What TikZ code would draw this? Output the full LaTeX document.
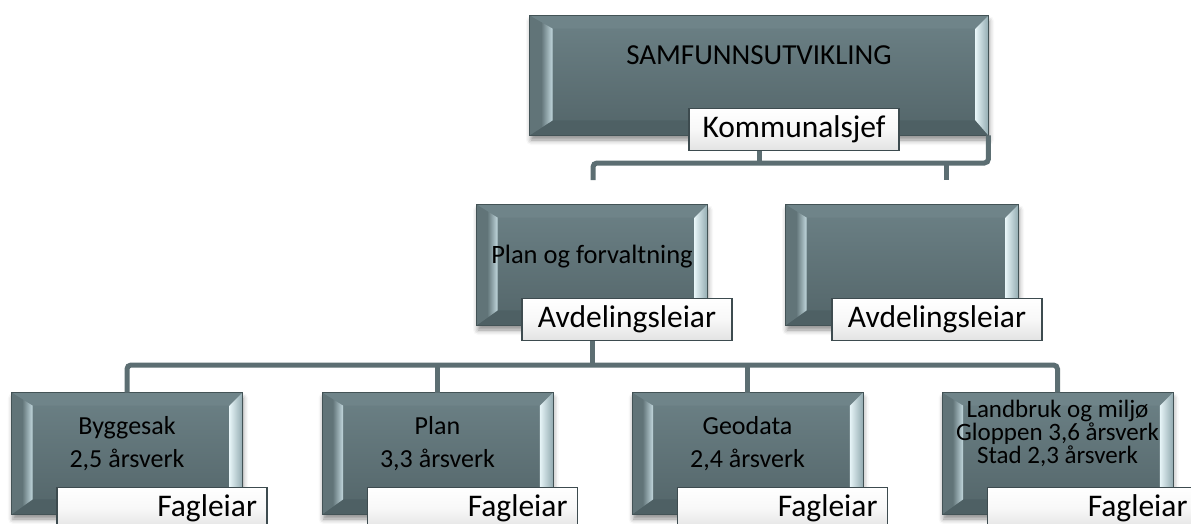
\documentclass[tikz,border=0pt]{standalone}
\usepackage{fontspec}
\setmainfont{Carlito}
\usetikzlibrary{calc,shadows.blur}

\definecolor{slate}{HTML}{617478}
\definecolor{slateTop}{HTML}{6C8186}
\definecolor{slateBot}{HTML}{536569}
\definecolor{faceTop}{HTML}{6F8489}
\definecolor{faceBot}{HTML}{4E6064}
\definecolor{bevelL}{HTML}{C2D8DE}
\definecolor{bevelR}{HTML}{E6F4F7}
\definecolor{bevelRout}{HTML}{93ABB1}
\definecolor{edge}{HTML}{435356}
\definecolor{wire}{HTML}{5C6E72}
\definecolor{tagedge}{HTML}{3D4B4F}
\definecolor{tagbot}{HTML}{E2E3E3}
\definecolor{tagmid}{HTML}{F8F8F8}

% angled bevel faces laid over a unit box: #1 = node name, #2 = left face width
\newcommand{\bevelfaces}[2]{%
  \coordinate (#1-inw) at ($(#1.north west)+(#2,13)$);
  \coordinate (#1-ine) at ($(#1.north east)+(-13,13)$);
  \coordinate (#1-isw) at ($(#1.south west)+(#2,-15)$);
  \coordinate (#1-ise) at ($(#1.south east)+(-13,-15)$);
  \fill[faceTop] (#1.north west) -- (#1.north east) -- (#1-ine) -- (#1-inw) -- cycle;
  \fill[faceBot] (#1.south west) -- (#1.south east) -- (#1-ise) -- (#1-isw) -- cycle;
  \shade[left color=slate, right color=bevelL, middle color=slate]
    (#1.north west) -- (#1-inw) -- (#1-isw) -- (#1.south west) -- cycle;
  \shade[left color=bevelR, right color=bevelRout]
    (#1-ine) -- (#1.north east) -- (#1.south east) -- (#1-ise) -- cycle;
  \draw[edge, line width=0.8pt] (#1.north west) rectangle (#1.south east);
}

\begin{document}
\begin{tikzpicture}[x=1pt, y=-1pt,
  unit/.style={draw=edge, line width=0.8pt, top color=slateTop, bottom color=slateBot,
    minimum width=230pt, minimum height=120pt, inner sep=0pt,
    blur shadow={shadow xshift=1pt, shadow yshift=-5pt, shadow blur radius=5pt, shadow opacity=45}},
  tag/.style={draw=tagedge, line width=1.4pt, top color=white, bottom color=tagbot, middle color=tagmid,
    minimum height=42pt, text width=190pt, inner xsep=10pt, inner ysep=0pt,
    text height=22pt, text depth=6pt, align=center, font=\fontsize{31.5pt}{36pt}\selectfont},
  ftag/.style={tag, align=right},
  ttl/.style={anchor=base, inner sep=0pt, font=\fontsize{29pt}{34pt}\selectfont},
  mtxt/.style={anchor=base, inner sep=0pt, font=\fontsize{26.5pt}{30pt}\selectfont},
  btxt/.style={anchor=base, inner sep=0pt, font=\fontsize{26pt}{30pt}\selectfont},
  ltxt/.style={anchor=base, inner sep=0pt, font=\fontsize{25pt}{28pt}\selectfont},
  link/.style={draw=wire, line width=5pt, rounded corners=4pt}
]
\useasboundingbox (0,0) rectangle (1191,523);
\clip (0,0) rectangle (1191,523);

% boxes
\node[unit, minimum width=458pt, minimum height=119pt] (top) at (759,75.5) {};
\bevelfaces{top}{23}
\node[unit] (plan) at (592,265) {};
\bevelfaces{plan}{21}
\node[unit, minimum width=232pt] (aux) at (902,265) {};
\bevelfaces{aux}{21}
\node[unit, minimum height=121pt] (bygg) at (127,453.5) {};
\bevelfaces{bygg}{21}
\node[unit, minimum height=121pt] (planb) at (437.5,453.5) {};
\bevelfaces{planb}{21}
\node[unit, minimum height=121pt] (geo) at (747.5,453.5) {};
\bevelfaces{geo}{21}
\node[unit, minimum height=121pt] (land) at (1057.5,453.5) {};
\bevelfaces{land}{21}

% box texts
\node[ttl] (top-t) at (759,64) {SAMFUNNSUTVIKLING};
\node[mtxt] (plan-t) at (592,263) {Plan og forvaltning};
\node[btxt] (bygg-t1) at (127,434) {Byggesak};
\node[btxt] (bygg-t2) at (127,467) {2,5 årsverk};
\node[btxt] (planb-t1) at (437.5,434) {Plan};
\node[btxt] (planb-t2) at (437.5,467) {3,3 årsverk};
\node[btxt] (geo-t1) at (747.5,434) {Geodata};
\node[btxt] (geo-t2) at (747.5,467) {2,4 årsverk};
\node[ltxt] (land-t1) at (1057.5,417) {Landbruk og miljø};
\node[ltxt] (land-t2) at (1057.5,440) {Gloppen 3,6 årsverk};
\node[ltxt] (land-t3) at (1057.5,463) {Stad 2,3 årsverk};

% connectors
\coordinate (hubTop) at (759,163);
\coordinate (dropA) at (593,180);
\coordinate (dropB) at (946,180);
\coordinate (hubBot) at (592,365);
\draw[link] (top.south) -- (hubTop);
\draw[link] (top.south east) |- (hubTop) -| (dropA);
\draw[link] (dropB |- hubTop) -- (dropB);
\draw[link] (plan.south) -- (hubBot);
\draw[link] (bygg.north) |- (hubBot) -| (land.north);
\draw[link] (planb.north |- hubBot) -- (planb.north);
\draw[link] (geo.north |- hubBot) -- (geo.north);

% role tags
\node[tag] (top-tag) at ($(top.south)+(35,-6)$) {Kommunalsjef};
\node[tag] (plan-tag) at ($(plan.south)+(35,-6)$) {Avdelingsleiar};
\node[tag] (aux-tag) at ($(aux.south)+(35,-6)$) {Avdelingsleiar};
\node[ftag] (bygg-tag) at ($(bygg.south)+(35,-6)$) {Fagleiar};
\node[ftag] (planb-tag) at ($(planb.south)+(35,-6)$) {Fagleiar};
\node[ftag] (geo-tag) at ($(geo.south)+(35,-6)$) {Fagleiar};
\node[ftag] (land-tag) at ($(land.south)+(35,-6)$) {Fagleiar};
\end{tikzpicture}
\end{document}
